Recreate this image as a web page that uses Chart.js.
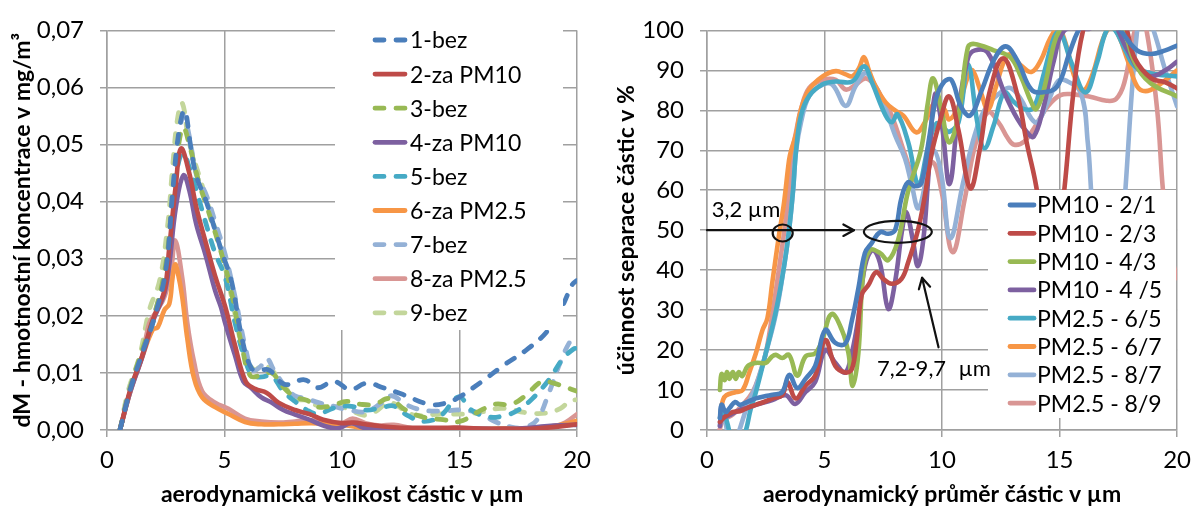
<!DOCTYPE html>
<html lang="cs">
<head>
<meta charset="utf-8">
<title>Hmotnostní koncentrace a účinnost separace částic</title>
<script src="https://cdn.jsdelivr.net/npm/chart.js@4.4.1/dist/chart.umd.min.js"></script>
<style>
  html, body { margin: 0; padding: 0; background: #fff; }
  #wrap { position: relative; width: 1200px; height: 508px; overflow: hidden; }
  .panel { position: absolute; top: 0; width: 600px; height: 508px; }
  #left { left: 0; }
  #right { left: 600px; }
</style>
</head>
<body>
<div id="wrap">
  <div class="panel" id="left"><canvas id="concChart" width="600" height="508"></canvas></div>
  <div class="panel" id="right"><canvas id="effChart" width="600" height="508"></canvas></div>
</div>
<script>
// ---- tick labels ----
const sizeTicks = ['0', '5', '10', '15', '20'];
const concTicks = ['0,00', '0,01', '0,02', '0,03', '0,04', '0,05', '0,06', '0,07'];
const effTicks = ['0', '10', '20', '30', '40', '50', '60', '70', '80', '90', '100'];

// ---- mass concentration dM [mg/m3] vs. aerodynamic size [µm] ----
const concLabels = ['1-bez', '2-za PM10', '3-bez', '4-za PM10', '5-bez', '6-za PM2.5', '7-bez', '8-za PM2.5', '9-bez'];

const bez1 = [[0.55,0],[1,0.0072],[1.5,0.0135],[2,0.0195],[2.5,0.028],[2.8,0.042],[3.05,0.052],[3.3,0.056],[3.55,0.05],[3.8,0.0445],[4.2,0.0403],[4.6,0.035],[4.9,0.031],[5.3,0.026],[5.75,0.0159],[6.15,0.0108],[6.5,0.0105],[6.9,0.0105],[7.55,0.008],[8.4,0.0088],[8.95,0.0074],[9.65,0.0085],[10.35,0.0071],[11.05,0.0082],[11.75,0.0074],[12.6,0.0062],[13.7,0.0045],[14.4,0.0047],[14.96,0.0057],[15.95,0.0085],[16.9,0.0114],[17.9,0.0142],[18.75,0.0174],[19.35,0.0215],[19.8,0.0255],[20,0.0262]];
const za2 = [[0.55,0],[1,0.0072],[1.5,0.013],[1.95,0.0193],[2.44,0.0244],[2.65,0.032],[2.93,0.043],[3.15,0.0493],[3.5,0.045],[3.8,0.039],[4.19,0.033],[4.6,0.027],[5.03,0.0216],[5.45,0.0148],[5.9,0.0085],[6.3,0.0072],[6.8,0.0065],[7.3,0.0048],[8,0.0035],[8.6,0.0028],[9.2,0.0018],[10,0.0012],[10.5,0.0013],[11,0.001],[11.6,0.0007],[12.5,0.0004],[13.5,0.0004],[14.5,0.0004],[15.2,0.0004],[16,0.0002],[17,0.0002],[18,0.0002],[19,0.0005],[20,0.001]];
const bez3 = [[0.55,0],[1,0.0075],[1.5,0.014],[2,0.02],[2.5,0.029],[2.8,0.041],[3.05,0.05],[3.25,0.053],[3.5,0.05],[3.9,0.0435],[4.3,0.0385],[4.9,0.0305],[5.3,0.024],[5.75,0.0145],[6.1,0.0095],[6.5,0.0095],[7,0.01],[7.5,0.0075],[8,0.0058],[8.5,0.0052],[9,0.004],[9.6,0.0043],[10.2,0.005],[10.8,0.0045],[11.4,0.0045],[12,0.0055],[12.7,0.0035],[13.5,0.0022],[14.3,0.0018],[15,0.0015],[15.8,0.0032],[16.5,0.0045],[17.2,0.0045],[17.8,0.006],[18.5,0.0085],[19,0.0082],[19.5,0.0075],[20,0.0068]];
const za4 = [[0.55,0],[1,0.0068],[1.5,0.0128],[1.95,0.019],[2.44,0.024],[2.65,0.029],[2.93,0.039],[3.25,0.0446],[3.5,0.042],[3.8,0.036],[4.19,0.0307],[4.6,0.0244],[4.85,0.0215],[5.03,0.0187],[5.45,0.013],[5.8,0.0085],[6.1,0.0075],[6.57,0.0057],[7,0.0048],[7.5,0.0035],[8,0.0027],[8.6,0.0018],[9.2,0.0008],[9.8,0.0003],[10.4,0.0012],[10.9,0.0004],[11.5,0.0004],[12,0.0002],[13,0.0003],[14,0.0003],[15,0.0003],[16,0.0002],[17,0.0002],[18,0.0004],[19,0.0008],[20,0.0009]];
const bez5 = [[0.55,0],[1,0.0075],[1.5,0.0135],[2,0.0195],[2.5,0.028],[2.8,0.04],[3.05,0.047],[3.25,0.0485],[3.5,0.046],[3.8,0.042],[4.2,0.0363],[4.6,0.031],[5.03,0.0267],[5.45,0.0187],[5.9,0.012],[6.2,0.0095],[6.6,0.0093],[7,0.0095],[7.5,0.0068],[8,0.005],[8.5,0.0035],[9,0.0028],[9.6,0.0038],[10.3,0.0042],[11,0.0035],[11.6,0.0038],[12.2,0.0042],[12.8,0.0025],[13.5,0.0015],[14.2,0.0025],[14.96,0.0058],[15.5,0.0035],[16.2,0.0023],[16.9,0.0025],[17.5,0.0035],[18.1,0.0055],[18.8,0.0088],[19.4,0.0125],[19.85,0.0142],[20,0.0143]];
const za6 = [[0.55,0],[1,0.0068],[1.5,0.0128],[1.95,0.0176],[2.16,0.018],[2.44,0.021],[2.65,0.0221],[2.79,0.0267],[2.9,0.029],[3,0.0278],[3.2,0.0233],[3.42,0.0159],[3.7,0.0091],[4.05,0.0057],[4.6,0.004],[5.17,0.0028],[5.87,0.0014],[6.57,0.001],[7.3,0.001],[8,0.0011],[8.7,0.0012],[9.5,0.001],[10.2,0.0008],[11,0.0003],[12,0.0004],[13,0.0002],[14,0.0002],[15,0.0002],[16,0.0002],[17,0.0003],[18,0.0003],[19,0.0007],[20,0.0016]];
const bez7 = [[0.55,0],[1,0.0075],[1.5,0.0135],[2,0.02],[2.5,0.028],[2.8,0.042],[3.05,0.051],[3.25,0.055],[3.5,0.0515],[3.8,0.0448],[4.2,0.0414],[4.6,0.0365],[5.03,0.0307],[5.45,0.0233],[5.9,0.0142],[6.2,0.0105],[6.5,0.011],[6.8,0.0125],[7.1,0.0105],[7.6,0.0075],[8,0.006],[8.5,0.0055],[9,0.0048],[9.6,0.0042],[10.3,0.0035],[11,0.0032],[11.6,0.0045],[12.1,0.006],[12.7,0.0045],[13.4,0.0035],[14.2,0.0033],[15,0.0035],[15.8,0.003],[16.5,0.0015],[17.2,0.0005],[17.8,0.0005],[18.3,0.0018],[18.8,0.0065],[19.3,0.012],[19.7,0.0155],[20,0.0168]];
const za8 = [[0.55,0],[1,0.007],[1.5,0.013],[1.8,0.0187],[2.09,0.0207],[2.44,0.0233],[2.72,0.0278],[2.9,0.0332],[3.2,0.0267],[3.42,0.0187],[3.7,0.012],[4.05,0.0068],[4.6,0.0048],[5.17,0.0037],[5.87,0.002],[6.57,0.0015],[7.3,0.0013],[8,0.0015],[8.7,0.0017],[9.5,0.0013],[10,0.0012],[10.45,0.002],[11,0.0012],[11.6,0.0008],[12.2,0.0009],[13,0.0003],[14,0.0002],[15,0.0003],[16,0.0003],[17,0.0003],[18,0.0002],[19,0.0006],[19.5,0.0013],[20,0.0028]];
const bez9 = [[0.55,0],[0.9,0.0068],[1.39,0.013],[1.8,0.021],[2.23,0.026],[2.58,0.0358],[2.79,0.046],[3,0.0545],[3.2,0.0573],[3.49,0.0505],[3.9,0.0448],[4.33,0.039],[4.9,0.0307],[5.3,0.0233],[5.73,0.0148],[6,0.012],[6.3,0.0105],[6.6,0.0114],[7,0.0105],[7.5,0.008],[8,0.0055],[8.5,0.0052],[9,0.0042],[9.6,0.0042],[10.2,0.0038],[10.9,0.0026],[11.4,0.0032],[12,0.0048],[12.6,0.0036],[13.1,0.0026],[14.2,0.0028],[15.3,0.0028],[16,0.0032],[16.8,0.0038],[17.9,0.003],[18.75,0.003],[19.3,0.0038],[19.7,0.0051],[20,0.0053]];

// ---- separation efficiency [%] vs. aerodynamic diameter [µm] ----
const effLabels = ['PM10 - 2/1', 'PM10 - 2/3', 'PM10 - 4/3', 'PM10 - 4 /5', 'PM2.5 - 6/5', 'PM2.5 - 6/7', 'PM2.5 - 8/7', 'PM2.5 - 8/9'];

const pm10_21 = [[0.55,3],[0.62,6.3],[0.8,4.5],[0.96,5.5],[1.2,7],[1.4,6.3],[1.7,7],[2.08,7.9],[2.5,8.5],[2.8,8.8],[3.2,9.5],[3.5,13.8],[3.84,10.5],[4.19,12.8],[4.6,16],[5.03,25],[5.46,21.8],[5.88,21.6],[6.16,27.3],[6.44,35.4],[6.72,44.3],[7,46.7],[7.36,49.5],[7.71,49.1],[8,50],[8.27,58],[8.55,62],[8.85,61],[9.13,62],[9.45,73],[9.75,83],[10.1,87.2],[10.4,87.6],[10.8,81],[11.2,78.7],[11.7,85.2],[12.2,92.5],[12.7,96],[13.2,92.5],[13.8,85.2],[14.3,84.5],[14.9,86],[15.4,94],[15.8,100],[16.3,104],[17,105],[17.6,100],[18.3,95],[18.9,94.1],[19.5,95],[20,96.2]];
const pm10_23 = [[0.55,2],[0.8,3.5],[1.1,4.5],[1.4,4.7],[1.7,5.5],[2.08,6.3],[2.5,7.2],[2.8,7.9],[3.2,8.7],[3.42,12],[3.77,7.9],[4.19,11.1],[4.6,13.6],[5.03,22.5],[5.46,16],[5.88,14.4],[6.16,15.2],[6.37,22.5],[6.58,33.8],[6.86,36.2],[7.2,39.5],[7.5,37.8],[7.85,36.6],[8.27,37.8],[8.55,41.8],[8.97,49.9],[9.25,58],[9.55,69],[9.9,77],[10.3,83.5],[10.7,75],[11.2,60.5],[11.6,70],[12,84],[12.6,93],[13.2,84],[13.6,72],[14.06,59],[14.6,30],[15.2,60],[15.6,85],[16,100],[16.4,105],[17.6,103],[18.2,93],[18.9,88],[19.5,87],[20,85.5]];
const pm10_43 = [[0.55,10],[0.62,14],[0.75,12.5],[0.85,14.5],[0.95,12.8],[1.1,14.5],[1.22,12.8],[1.35,14.5],[1.5,13.5],[1.73,16],[2.08,16.8],[2.5,16.8],[2.75,18.3],[2.93,18.8],[3.2,18],[3.49,18.8],[3.84,13.6],[4.19,18.4],[4.6,19.2],[4.9,22.5],[5.3,29],[5.74,25],[6.02,19.2],[6.2,11],[6.44,19.2],[6.65,39.4],[6.93,45],[7.36,44.3],[7.71,42.5],[8.13,47.5],[8.55,59.6],[9.1,70],[9.4,82],[9.62,88],[9.97,80.3],[10.3,72],[10.7,78.7],[11.1,95.8],[11.38,96.6],[12.2,95],[12.9,93.3],[13.35,88.5],[13.8,82],[14,80.3],[14.3,84.4],[14.76,96.6],[15,100],[15.5,104],[17,104],[17.7,100],[18.2,92],[18.87,86.8],[20,83.5]];
const pm10_45 = [[0.55,1],[0.62,3],[0.9,3.5],[1.38,5],[1.7,5.5],[2.08,6.3],[2.78,7.5],[3.35,8.7],[3.75,6.5],[4.19,9.5],[4.6,12],[5.03,20],[5.46,16.8],[5.88,14.4],[6.16,19.2],[6.44,28.1],[6.72,41],[7.05,45],[7.36,41.8],[7.71,30.3],[8,37],[8.3,50],[8.48,54.5],[8.76,47.5],[8.97,41],[9.2,47.5],[9.4,62],[9.7,84],[10,76],[10.32,61.6],[10.7,80],[11.1,93],[11.4,95],[11.94,94.5],[12.65,84.4],[13.2,77.9],[13.6,74.6],[13.9,73.4],[14.3,80.3],[14.76,92.5],[15.2,100],[15.9,100.5],[16.3,100.5],[17,104],[17.9,95],[18.4,90],[18.9,88.5],[19.5,90],[20,92.2]];
const pm25_65 = [[0.55,3],[0.65,5.5],[0.85,2],[1.1,-3],[1.4,-4],[1.66,0],[1.85,5],[2.08,9.5],[2.5,19.2],[2.93,29.7],[3.28,41],[3.49,50],[3.66,60],[3.79,70],[4,78.7],[4.35,83.6],[4.92,86.5],[5.48,87.2],[6.18,87.2],[6.68,91],[7.03,86.8],[7.6,78.7],[7.87,77],[8.1,79],[8.56,72],[9,61.5],[9.4,70.6],[9.76,76.7],[10.1,75.4],[10.3,74.6],[10.7,77],[11.1,91.5],[11.5,77],[11.8,70.5],[12.2,76.3],[12.65,84.4],[13.07,82],[13.5,80.3],[13.9,80.7],[14.3,88.5],[14.76,98.2],[15,100],[15.5,92],[16.1,84.5],[16.6,92],[17,100],[17.3,100.5],[17.8,95],[18.2,91],[18.87,89.3],[20,88.5]];
const pm25_67 = [[0.6,5],[0.68,7.5],[0.82,8.7],[1.24,9.5],[1.52,10],[1.8,14.4],[2.08,19.2],[2.36,25],[2.57,28],[2.78,37],[3.07,49],[3.28,57],[3.49,67.5],[3.58,70],[3.79,74],[4,80.3],[4.35,85.2],[4.92,88.5],[5.48,89.8],[5.9,89],[6.18,88.5],[6.46,90.5],[6.68,93.3],[6.89,90],[7.17,86],[7.6,82],[8,80],[8.35,78.7],[8.9,74.5],[9.27,77],[9.7,82],[10.1,80.3],[10.3,77.7],[10.7,81],[11.1,88.5],[11.3,90],[11.66,84.4],[11.95,80.2],[12.3,86],[12.65,92.5],[12.9,94],[13.35,91.3],[13.8,89.6],[14.2,92.5],[14.6,98],[14.95,100.5],[15.3,96],[15.6,89],[16,85],[16.4,89],[16.8,97],[17.1,100.5],[17.4,100],[17.9,92.5],[18.3,86],[18.66,84.8],[19.15,86],[20,90]];
const pm25_87 = [[0.55,1],[0.62,6.5],[0.78,2],[1,-3],[1.2,-3],[1.38,0],[1.73,6.3],[2.08,11],[2.5,19.2],[2.93,29],[3.28,41],[3.49,50],[3.66,59.6],[3.79,69.8],[4,77],[4.35,83.6],[4.92,86.4],[5.34,86.4],[5.9,81.1],[6.32,86],[6.75,89.3],[7.17,86],[7.6,80.3],[8,73.8],[8.42,68],[8.7,61.6],[9,55.5],[9.4,65],[9.65,70],[9.97,64],[10.35,48],[10.9,62],[11.4,74],[11.9,81],[12.5,84.5],[12.9,85.6],[13.35,82.8],[13.8,77.9],[14.06,77],[14.5,82],[14.93,87.3],[15.25,87.5],[15.9,84.4],[16.2,72],[16.34,60],[16.6,35],[17,15],[17.4,25],[17.8,60],[18.3,100],[18.6,106],[19,100],[19.5,90],[20,81]];
const pm25_89 = [[0.53,0],[0.68,2.3],[1.1,3.9],[1.52,6.3],[1.94,9.5],[2.22,13.6],[2.5,19.2],[2.78,29],[3.14,43.5],[3.28,49.5],[3.49,59.6],[3.58,68],[3.79,74.6],[4,80.3],[4.35,85.6],[4.92,87.6],[5.48,87.6],[5.9,85.2],[6.32,86.4],[6.75,88],[7.17,86],[7.6,81],[7.86,78.7],[8.42,69],[8.85,62.4],[9.13,61.5],[9.6,67],[9.97,60],[10.45,44.5],[10.96,57.6],[11.38,70.6],[11.94,79.5],[12.4,77],[12.8,73],[13.07,71.4],[13.5,72.2],[13.9,75.4],[14.5,81],[15.04,83.8],[15.6,84],[16.3,83.4],[17,82.4],[17.4,82.8],[17.75,86.8],[18.2,100],[18.45,103],[18.7,100],[19.15,80.3],[19.4,60],[19.7,45],[20,38]];

// ---- annotation texts ----
const cutText = '3,2 µm';
const rangeText = '7,2-9,7';
const unitText = 'µm';

// ---- styling ----
const FONT = 'Lato, "Open Sans", sans-serif';
const GRID = '#a0a0a0';
const palette = ['#4A7EBB', '#BE4B48', '#98B954', '#7D60A0', '#46AAC5', '#F79646', '#94B1D6', '#D99694', '#C3D69B'];

function seriesDataset(label, pts, color, dashed) {
  return {
    label,
    data: pts.map(([x, y]) => ({ x, y })),
    borderColor: color,
    backgroundColor: color,
    borderWidth: dashed ? 4.8 : 4.6,
    borderDash: dashed ? [9, 12] : [],
    borderCapStyle: 'round',
    borderJoinStyle: 'round',
    pointRadius: 0,
    pointHoverRadius: 0,
    tension: 0.4,
    fill: false
  };
}

// legend drawn as a white box inside the plot area
const legendBox = {
  id: 'legendBox',
  afterDatasetsDraw(chart, args, o) {
    const ctx = chart.ctx;
    ctx.save();
    ctx.fillStyle = '#fff';
    ctx.fillRect(o.box[0], o.box[1], o.box[2], o.box[3]);
    ctx.font = o.font;
    ctx.textBaseline = 'middle';
    ctx.textAlign = 'left';
    chart.data.datasets.forEach((ds, i) => {
      const y = o.y0 + i * o.dy;
      ctx.strokeStyle = ds.borderColor;
      ctx.lineWidth = o.lw;
      ctx.lineCap = 'round';
      ctx.setLineDash(ds.borderDash || []);
      ctx.beginPath();
      ctx.moveTo(o.x0, y);
      ctx.lineTo(o.x1, y);
      ctx.stroke();
      ctx.setLineDash([]);
      ctx.fillStyle = '#000';
      ctx.fillText(ds.label, o.tx, y + 1);
    });
    ctx.restore();
  }
};

// arrows, ellipses and labels marking the cut size
function arrowLine(ctx, x0, y0, x1, y1, head) {
  ctx.beginPath();
  ctx.moveTo(x0, y0);
  ctx.lineTo(x1, y1);
  ctx.stroke();
  const a = Math.atan2(y1 - y0, x1 - x0);
  ctx.beginPath();
  ctx.moveTo(x1 - head * Math.cos(a - 0.5), y1 - head * Math.sin(a - 0.5));
  ctx.lineTo(x1, y1);
  ctx.lineTo(x1 - head * Math.cos(a + 0.5), y1 - head * Math.sin(a + 0.5));
  ctx.stroke();
}
const cutMarks = {
  id: 'cutMarks',
  afterDatasetsDraw(chart) {
    const ctx = chart.ctx;
    const px = v => chart.scales.x.getPixelForValue(v);
    const py = v => chart.scales.y.getPixelForValue(v);
    ctx.save();
    ctx.strokeStyle = '#111';
    ctx.lineWidth = 2.2;
    ctx.lineCap = 'round';
    ctx.lineJoin = 'round';
    arrowLine(ctx, px(0), py(50), px(6.25), py(50), 12);
    ctx.beginPath();
    ctx.ellipse(px(3.22), py(49.3), 10, 8.5, 0, 0, Math.PI * 2);
    ctx.stroke();
    ctx.beginPath();
    ctx.ellipse(px(8.12), py(49.6), 34, 11, 0, 0, Math.PI * 2);
    ctx.stroke();
    arrowLine(ctx, px(9.85), py(20.7), px(9.15), py(38.1), 12);
    ctx.fillStyle = '#000';
    ctx.font = '22px ' + FONT;
    ctx.textBaseline = 'middle';
    ctx.textAlign = 'left';
    ctx.fillText(cutText, px(0.2), py(55));
    ctx.fillText(rangeText, px(7.23), py(15.3));
    ctx.fillText(unitText, px(10.7), py(15.3));
    ctx.restore();
  }
};

function xAxis(title) {
  return {
    type: 'linear', min: 0, max: 20,
    ticks: { stepSize: 5, color: '#000', font: { family: FONT, size: 24 }, padding: 9, maxRotation: 0,
             callback: v => sizeTicks[Math.round(v / 5)] },
    grid: { color: GRID, lineWidth: 1.5, tickLength: 7 },
    border: { color: GRID, width: 1.5 },
    title: { display: true, text: title, color: '#000', font: { family: FONT, size: 23, weight: 'bold' }, padding: { top: 0, bottom: 0 } },
    afterFit: s => { s.height = 78; }
  };
}
function yAxis(title, max, step, labels, titlePad) {
  return {
    type: 'linear', min: 0, max: max,
    ticks: { stepSize: step, color: '#000', font: { family: FONT, size: 24 }, padding: 16,
             callback: v => labels[Math.round(v / step)] },
    grid: { color: GRID, lineWidth: 1.5, tickLength: 7 },
    border: { color: GRID, width: 1.5 },
    title: { display: true, text: title, color: '#000', font: { family: FONT, size: 23, weight: 'bold' }, padding: { top: titlePad, bottom: 0 } },
    afterFit: s => { s.width = 107; }
  };
}
const common = {
  responsive: false,
  animation: false,
  devicePixelRatio: 1,
  events: [],
  plugins: { legend: { display: false }, tooltip: { enabled: false } }
};

const concSets = [bez1, za2, bez3, za4, bez5, za6, bez7, za8, bez9];
new Chart(document.getElementById('concChart'), {
  type: 'line',
  data: { datasets: concSets.map((pts, i) => seriesDataset(concLabels[i], pts, palette[i], concLabels[i].includes('bez'))) },
  options: Object.assign({}, common, {
    layout: { padding: { top: 19, right: 17, bottom: 0, left: 0 } },
    scales: {
      x: xAxis('aerodynamická velikost částic v µm'),
      y: yAxis('dM - hmotnostní koncentrace v mg/m³', 0.07, 0.01, concTicks, 9)
    },
    plugins: Object.assign({}, common.plugins, {
      legendBox: { box: [335, 22, 228, 308], x0: 375, x1: 405, tx: 410, y0: 40, dy: 34.1, lw: 4.8, font: '23px ' + FONT }
    })
  }),
  plugins: [legendBox]
});

const effSets = [pm10_21, pm10_23, pm10_43, pm10_45, pm25_65, pm25_67, pm25_87, pm25_89];
new Chart(document.getElementById('effChart'), {
  type: 'line',
  data: { datasets: effSets.map((pts, i) => seriesDataset(effLabels[i], pts, palette[i], false)) },
  options: Object.assign({}, common, {
    layout: { padding: { top: 19, right: 20, bottom: 0, left: 0 } },
    scales: {
      x: xAxis('aerodynamický průměr částic v µm'),
      y: yAxis('účinnost separace částic v %', 100, 10, effTicks, 13)
    },
    plugins: Object.assign({}, common.plugins, {
      legendBox: { box: [388, 190, 188, 228], x0: 410, x1: 434, tx: 437, y0: 205, dy: 28.3, lw: 4.8, font: '23px ' + FONT }
    })
  }),
  plugins: [legendBox, cutMarks]
});
</script>
</body>
</html>
